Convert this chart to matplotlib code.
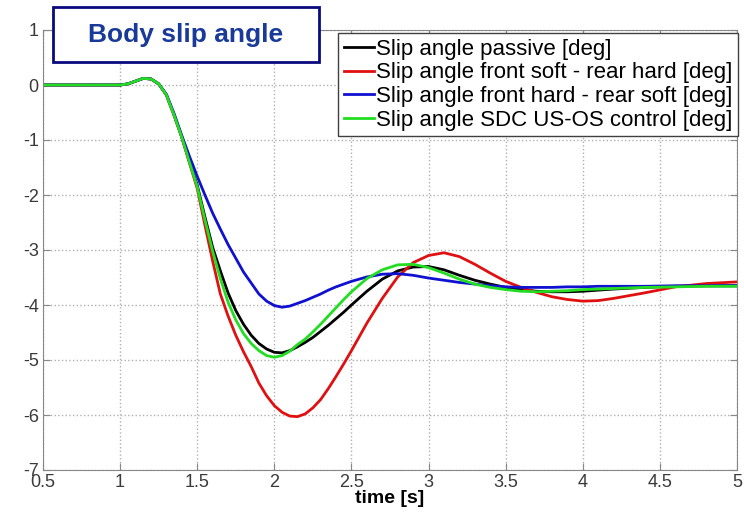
import matplotlib.pyplot as plt
from matplotlib.patches import Rectangle

plt.rcParams['font.family'] = ['Liberation Sans', 'DejaVu Sans']
plt.rcParams['axes.unicode_minus'] = False

# time axis [s]
t = [0.5, 1.0, 1.05, 1.1, 1.15, 1.2, 1.25, 1.3, 1.35, 1.4, 1.45,
     1.5, 1.55, 1.6, 1.65, 1.7, 1.75, 1.8, 1.85, 1.9, 1.95,
     2.0, 2.05, 2.1, 2.15, 2.2, 2.25, 2.3, 2.35, 2.4, 2.45, 2.5, 2.6, 2.7,
     2.8, 2.9, 3.0, 3.1, 3.2, 3.3, 3.4, 3.5, 3.6, 3.7,
     3.8, 3.9, 4.0, 4.1, 4.2, 4.4, 4.6, 4.8, 5.0]

# body slip angle [deg]
passive = [0, 0, 0.02, 0.07, 0.12, 0.11, 0.02, -0.18, -0.55, -0.95, -1.4,
           -1.82, -2.4, -2.95, -3.38, -3.78, -4.1, -4.35, -4.55, -4.7, -4.8,
           -4.86, -4.87, -4.83, -4.76, -4.68, -4.59, -4.48, -4.37, -4.25, -4.13, -4.0, -3.75, -3.53,
           -3.38, -3.31, -3.3, -3.36, -3.46, -3.55, -3.62, -3.68, -3.72, -3.75,
           -3.76, -3.76, -3.75, -3.73, -3.71, -3.68, -3.66, -3.65, -3.65]

front_soft = [0, 0, 0.02, 0.07, 0.12, 0.11, 0.02, -0.18, -0.55, -0.95, -1.42,
              -1.88, -2.55, -3.2, -3.8, -4.2, -4.55, -4.85, -5.12, -5.42, -5.65,
              -5.83, -5.95, -6.02, -6.03, -5.98, -5.87, -5.72, -5.52, -5.3, -5.07, -4.83, -4.33, -3.88,
              -3.49, -3.23, -3.1, -3.05, -3.12, -3.26, -3.42, -3.57, -3.68, -3.77,
              -3.85, -3.9, -3.93, -3.92, -3.88, -3.78, -3.67, -3.61, -3.58]

front_hard = [0, 0, 0.02, 0.07, 0.12, 0.11, 0.02, -0.17, -0.52, -0.92, -1.3,
              -1.66, -2.0, -2.33, -2.62, -2.9, -3.15, -3.4, -3.6, -3.8, -3.93,
              -4.01, -4.04, -4.02, -3.97, -3.92, -3.86, -3.8, -3.73, -3.67, -3.62, -3.57, -3.49, -3.44,
              -3.43, -3.46, -3.51, -3.55, -3.59, -3.62, -3.65, -3.67, -3.68, -3.68,
              -3.68, -3.67, -3.67, -3.66, -3.66, -3.66, -3.65, -3.65, -3.65]

sdc = [0, 0, 0.02, 0.07, 0.12, 0.11, 0.02, -0.18, -0.55, -0.95, -1.41,
       -1.85, -2.45, -3.02, -3.52, -3.95, -4.27, -4.52, -4.7, -4.83, -4.92,
       -4.95, -4.92, -4.84, -4.72, -4.62, -4.49, -4.35, -4.2, -4.05, -3.9, -3.76, -3.52, -3.36,
       -3.27, -3.26, -3.32, -3.42, -3.53, -3.62, -3.68, -3.72, -3.75, -3.76,
       -3.75, -3.74, -3.72, -3.71, -3.7, -3.68, -3.67, -3.66, -3.66]

labels = ['Slip angle passive [deg]',
          'Slip angle front soft - rear hard [deg]',
          'Slip angle front hard - rear soft [deg]',
          'Slip angle SDC US-OS control [deg]']
colors = ['black', '#e01010', '#1010d0', '#22dd22']

fig = plt.figure(figsize=(7.44, 5.12), dpi=100)
ax = fig.add_axes([43 / 744, 42 / 512, 694 / 744, 440 / 512])

for y, lab, c in zip([passive, front_soft, front_hard, sdc], labels, colors):
    ax.plot(t, y, color=c, linewidth=2, label=lab)

ax.set_xlim(0.5, 5)
ax.set_ylim(-7, 1)
ax.set_xticks([0.5, 1, 1.5, 2, 2.5, 3, 3.5, 4, 4.5, 5])
ax.set_xticklabels(['0.5', '1', '1.5', '2', '2.5', '3', '3.5', '4', '4.5', '5'])
ax.set_yticks(range(-7, 2))
ax.grid(True, linestyle=':', color='#b0b0b0', linewidth=1)
ax.tick_params(direction='in', top=True, right=True, length=5, colors='#888888',
               labelcolor='#3a3a3a', labelsize=13, pad=3)
for s in ax.spines.values():
    s.set_color('#888888')
ax.set_xlabel('time [s]', fontsize=14, fontweight='bold', labelpad=-1)

ax.legend(loc='upper right', bbox_to_anchor=(1.0015, 0.993), fontsize=16,
          handlelength=1.35, handletextpad=0.1, borderpad=0.25, labelspacing=0.12,
          borderaxespad=0, fancybox=False, framealpha=1, edgecolor='#404040')

# title box
fig.patches.append(Rectangle((53 / 744, 1 - 62 / 512), 266 / 744, 55 / 512,
                             transform=fig.transFigure, facecolor='white',
                             edgecolor='#0a0a80', linewidth=2, zorder=5))
fig.text(186 / 744, 1 - 35 / 512, 'Body slip angle', ha='center', va='center',
         fontsize=19, fontweight='bold', color='#1a3a99', zorder=6)

fig.savefig('out.png', dpi=100)
